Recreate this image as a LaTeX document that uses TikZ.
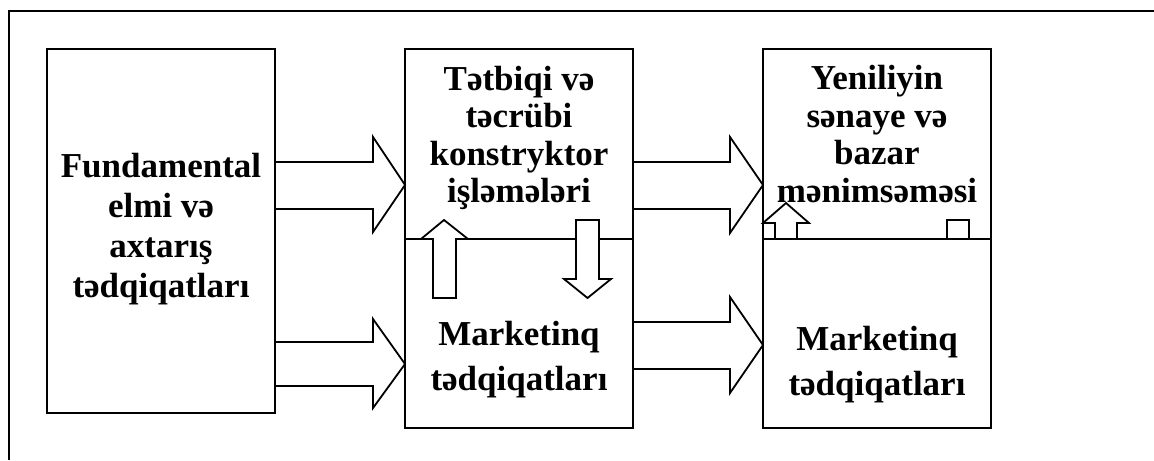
\documentclass[tikz,border=0pt]{standalone}
\usepackage{fontspec}
\setmainfont{Liberation Serif}

\begin{document}
\begin{tikzpicture}[x=0.5pt,y=-0.5pt,
		box/.style={draw, line width=1pt, inner sep=0pt, outer sep=0pt},
		blockarrow/.style={draw, line width=0.9pt, fill=white, line join=miter},
		caption/.style={font=\bfseries\fontsize{17.5}{#1}\selectfont, align=center, inner sep=0pt}]
	\useasboundingbox (0,0) rectangle (1154,460);
	% frame
	\draw[line width=1pt] (9,460) -- (9,11) -- (1154,11);
	% boxes
	\node[box, minimum width=114pt, minimum height=182pt] (fund) at (161,231) {};
	\node[box, minimum width=114pt, minimum height=95pt] (applied) at (519,144) {};
	\node[box, minimum width=114pt, minimum height=94.5pt] (mkt) at (519,333.5) {};
	\node[box, minimum width=114pt, minimum height=95pt] (novelty) at (877,144) {};
	\node[box, minimum width=114pt, minimum height=94.5pt] (mktright) at (877,333.5) {};
	% texts
	\node[caption=20pt] (fundtext) at (161,229) {Fundamental\\elmi və\\axtarış\\tədqiqatları};
	\node[caption=18.75pt] (appliedtext) at (519,138) {Tətbiqi və\\təcrübi\\konstryktor\\işləmələri};
	\node[caption=22.5pt] (mkttext) at (519,360) {Marketinq\\tədqiqatları};
	\node[caption=18.75pt] (noveltytext) at (877,134) {Yeniliyin\\sənaye və\\bazar\\mənimsəməsi};
	\node[caption=22.5pt] (mktrighttext) at (877,365) {Marketinq\\tədqiqatları};
	% horizontal arrows
	\draw[blockarrow] (275,162) -- (373,162) -- (373,137) -- (405,185) -- (373,232) -- (373,209) -- (275,209) -- cycle;
	\draw[blockarrow] (275,342) -- (373,342) -- (373,319) -- (405,364) -- (373,408) -- (373,386) -- (275,386) -- cycle;
	\draw[blockarrow] (633,162) -- (730,162) -- (730,137) -- (763,185) -- (730,233) -- (730,209) -- (633,209) -- cycle;
	\draw[blockarrow] (633,322) -- (730,322) -- (730,297) -- (763,345) -- (730,393) -- (730,369) -- (633,369) -- cycle;
	% vertical arrows
	\draw[blockarrow] (433,298) -- (433,239) -- (421,239) -- (444,220) -- (468,239) -- (456,239) -- (456,298) -- cycle;
	\draw[blockarrow] (576,220) -- (599,220) -- (599,279) -- (611,279) -- (587.5,298) -- (564,279) -- (576,279) -- cycle;
	\draw[blockarrow] (775,239) -- (775,223) -- (763,223) -- (786,203) -- (809,223) -- (797,223) -- (797,239) -- cycle;
	\draw[blockarrow] (947,239) rectangle (969,220);
\end{tikzpicture}
\end{document}
